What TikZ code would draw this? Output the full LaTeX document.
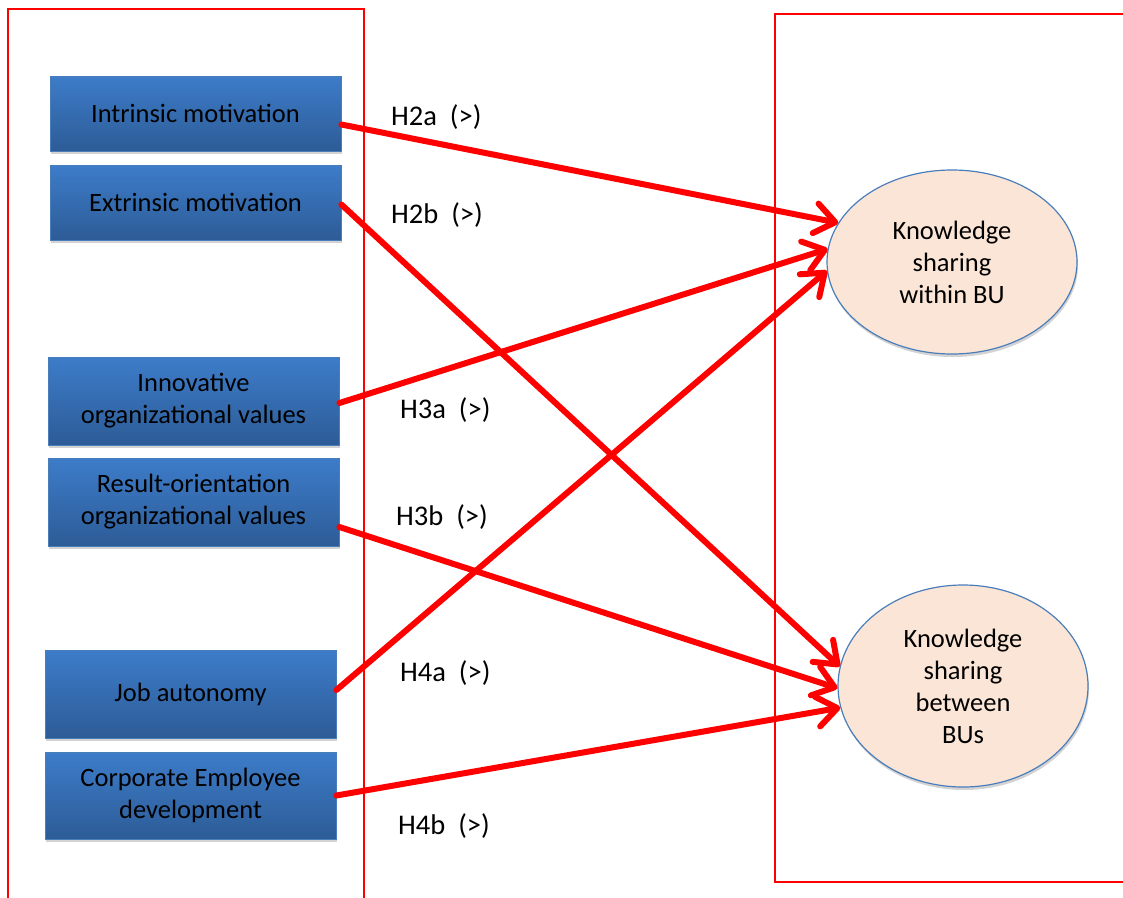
\documentclass[tikz,border=0pt]{standalone}
\usepackage{fontspec}
\setmainfont{Carlito}
\usetikzlibrary{arrows.meta,shapes.geometric,shadows}
\definecolor{boxtop}{HTML}{3D7CC9}
\definecolor{boxbot}{HTML}{2D5C97}
\definecolor{boxedge}{HTML}{4A7EBB}
\definecolor{ellfill}{HTML}{FBE5D6}
\definecolor{elledge}{HTML}{4A7EBB}
\tikzset{
  varbox/.style={rectangle, minimum width=291pt, minimum height=#1, inner sep=0pt,
    top color=boxtop, bottom color=boxbot, draw=boxedge, line width=0.8pt,
    drop shadow={shadow xshift=1pt, shadow yshift=-3pt, opacity=0.35},
    align=center, font=\fontsize{26.5}{32}\selectfont, text=black},
  outbox/.style={ellipse, minimum width=250pt, minimum height=#1, inner sep=0pt,
    fill=ellfill, draw=elledge, line width=1.2pt,
    drop shadow={shadow xshift=1pt, shadow yshift=-3pt, opacity=0.35},
    align=center, font=\fontsize{26.5}{32}\selectfont, text=black},
  hlabel/.style={font=\fontsize{28.5}{32}\selectfont, text=black, inner sep=0pt},
  frame/.style={draw=red, line width=1.8pt},
  link/.style={draw=red, line width=6pt, line cap=round,
    -{Straight Barb[length=20pt, width=30pt, line width=6pt, round]}}
}
\begin{document}
\begin{tikzpicture}[x=1pt,y=-1pt]
\useasboundingbox (0,0) rectangle (1123,897);
% frames
\draw[frame] (8,900) -- (8,9) -- (364,9) -- (364,900);
\draw[frame] (1126,14) -- (775,14) -- (775,882) -- (1126,882);
% boxes
\node[varbox=75pt] (b1) at (195.5,113.5) {Intrinsic motivation};
\node[varbox=75pt] (b2) at (195.5,202.5) {Extrinsic motivation};
\node[varbox=88pt] (b3) at (193.5,401) {Innovative\\organizational values};
\node[varbox=88pt] (b4) at (193.5,502) {Result-orientation\\organizational values};
\node[varbox=88pt] (b5) at (190.5,694) {Job autonomy};
\node[varbox=87pt] (b6) at (190.5,795.5) {Corporate Employee\\development};
% outcomes
\node[outbox=184pt] (e1) at (952,262) {Knowledge\\sharing\\within BU};
\node[outbox=202pt] (e2) at (963,686) {Knowledge\\sharing\\between\\BUs};
% labels
\node[hlabel, anchor=west] (l1) at (391,117) {H2a\ \ (>)};
\node[hlabel, anchor=west] (l2) at (391,215) {H2b\ \ (>)};
\node[hlabel, anchor=west] (l3) at (400,410) {H3a\ \ (>)};
\node[hlabel, anchor=west] (l4) at (396,517) {H3b\ \ (>)};
\node[hlabel, anchor=west] (l5) at (400,673) {H4a\ \ (>)};
\node[hlabel, anchor=west] (l6) at (398,826) {H4b\ \ (>)};
% links
\draw[link] ([yshift=-11pt]b1.east) -- (e1.161);
\draw[link] ([yshift=-2pt]b2.east) -- (e2.171);
\draw[link] ([yshift=-2pt]b3.east) -- (e1.174);
\draw[link] ([yshift=-25pt]b4.east) -- (e2.181);
\draw[link] ([yshift=4pt]b5.east) -- (e1.184);
\draw[link] (b6.east) -- (e2.190);
\end{tikzpicture}
\end{document}
